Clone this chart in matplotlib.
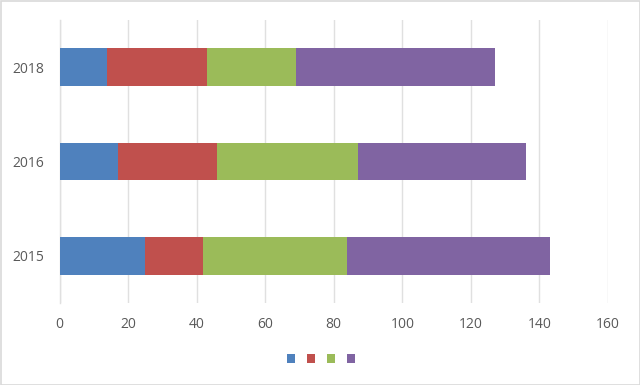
import matplotlib
matplotlib.use("Agg")
import matplotlib.pyplot as plt
from matplotlib.patches import Patch, Rectangle

categories = ["2015", "2016", "2018"]
series_names = ["", "", "", ""]
blue = [25, 17, 14]
red = [17, 29, 29]
green = [42, 41, 26]
purple = [59, 49, 58]
colors = ["#4F81BD", "#C0504D", "#9BBB59", "#8064A2"]
xticks = [0, 20, 40, 60, 80, 100, 120, 140, 160]

plt.rcParams['font.family'] = ['Open Sans', 'DejaVu Sans']

fig = plt.figure(figsize=(6.4, 3.85), dpi=100)
ax = fig.add_axes([59.5/640, 1-303/385, (608-59.5)/640, (303-20)/385])

series = [blue, red, green, purple]
left = [0]*len(categories)
ypos = list(range(len(categories)))
for vals, c in zip(series, colors):
    ax.barh(ypos, vals, left=left, height=0.4, color=c, zorder=3)
    left = [l+v for l, v in zip(left, vals)]

ax.set_xlim(0, 160)
ax.set_ylim(-0.5, len(categories)-0.5)
ax.set_xticks(xticks)
ax.set_xticklabels([str(t) for t in xticks])
ax.set_yticks(ypos)
ax.set_yticklabels(categories)
ax.tick_params(axis='both', length=0, labelsize=10, colors="#595959")
ax.tick_params(axis='x', pad=10)
ax.tick_params(axis='y', pad=11)
ax.xaxis.grid(True, color="#E0E0E0", linewidth=1, zorder=0)
for s in ["top", "right", "bottom"]:
    ax.spines[s].set_visible(False)
ax.spines["left"].set_color("#E0E0E0")
ax.spines["left"].set_linewidth(1)

handles = [Patch(facecolor=c) for c in colors]
fig.legend(handles, series_names, loc='center', bbox_to_anchor=(321/640, 1-359/385),
           ncol=4, frameon=False, handlelength=0.7, handleheight=0.7,
           handletextpad=0.0, columnspacing=0.9, fontsize=9)

fig.patches.append(Rectangle((0.5/640, 0.5/385), 1-1/640, 1-1/385, transform=fig.transFigure,
                             fill=False, edgecolor="#D9D9D9", linewidth=1.2))

fig.savefig("out.png", dpi=100)
